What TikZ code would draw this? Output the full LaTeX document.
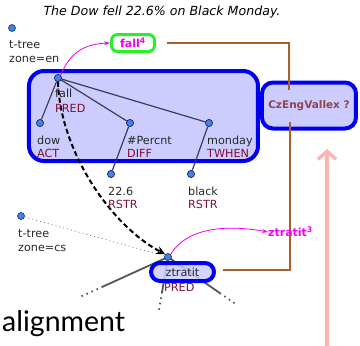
\documentclass[tikz,border=0pt]{standalone}
\usepackage{fontspec}
\setmainfont{DejaVu Sans}
\newfontfamily\alfont{Lato}
\usetikzlibrary{arrows.meta,calc}
\definecolor{lav}{RGB}{204,204,255}
\definecolor{bluebd}{RGB}{0,0,238}
\definecolor{grn}{RGB}{40,240,40}
\definecolor{mag}{RGB}{240,0,240}
\definecolor{rolec}{RGB}{128,16,48}
\definecolor{brownl}{RGB}{170,95,45}
\definecolor{czc}{RGB}{140,70,80}
\definecolor{pinkc}{RGB}{255,180,180}
\definecolor{edgec}{RGB}{60,60,90}
\definecolor{zgray}{RGB}{85,85,85}
\definecolor{dotf}{RGB}{70,130,230}
\definecolor{dotb}{RGB}{20,40,120}
\begin{document}
\begin{tikzpicture}[x=1pt,y=-1pt,
  dotn/.style={circle,inner sep=0pt,minimum size=7pt,fill=dotf,draw=dotb,line width=0.6pt},
  word/.style={anchor=base west,inner sep=0pt,font=\fontsize{11.2}{13}\selectfont,text=black!85},
  role/.style={anchor=base west,inner sep=0pt,font=\fontsize{11.2}{13}\selectfont,text=rolec},
  tedge/.style={draw=edgec,line width=1.2pt},
  zedge/.style={draw=zgray,line width=1.8pt},
  zdot/.style={draw=zgray,line width=1.8pt,dash pattern=on 1.5pt off 4pt},
  bigbox/.style={draw=bluebd,fill=lav,line width=4pt},
  brownline/.style={draw=brownl,line width=1.5pt},
  magarrow/.style={draw=mag,line width=0.8pt,-{Stealth[length=6pt,width=4pt]}}
]
\useasboundingbox (0,0) rectangle (360,346);

% title
\node[inner sep=0pt,font=\fontsize{12.6}{14}\selectfont\itshape] (title) at (162,12) {The Dow fell 22.6\% on Black Monday.};

% boxes
\node[bigbox,rounded corners=15pt,minimum width=229pt,minimum height=90pt] (ebox) at (143.5,116) {};
\node[bigbox,rounded corners=11pt,minimum width=94pt,minimum height=46pt,
      font=\fontsize{10.5}{12}\selectfont\bfseries,text=czc] (cz) at (309,105.5) {CzEngVallex ?};
\node[draw=grn,line width=3pt,rounded corners=6pt,minimum width=43pt,minimum height=17pt,inner sep=0pt,
      font=\fontsize{11}{12}\selectfont\bfseries,text=mag] (fall4) at (133,43) {fall\textsuperscript{4}};

% brown lines
\coordinate (b1) at (167,43);
\coordinate (b2) at (289,43);
\coordinate (b3) at (289,90);
\coordinate (b4) at (290,122);
\coordinate (b5) at (290,270);
\coordinate (b6) at (223,270);
\draw[brownline] (b1) -- (b2) -- (b3);
\draw[brownline] (b4) -- (b5) -- (b6);

% pink arrow
\coordinate (p0) at (327,346);
\coordinate (p1) at (327,149);
\draw[draw=pinkc,line width=3.5pt,-{Straight Barb[length=8pt,width=18pt]}] (p0) -- (p1);

% tree en
\node[dotn] (en) at (12,28) {};
\node[word] (enl1) at (9,48) {t-tree};
\node[word] (enl2) at (9,62) {zone=en};

\node[dotn] (fall) at (58,78) {};
\node[dotn] (dow) at (40,123) {};
\node[dotn] (perc) at (130,123) {};
\node[dotn] (mon) at (209,123) {};
\node[dotn] (n226) at (111,174) {};
\node[dotn] (blk) at (191,174) {};
\draw[tedge] (fall) -- (dow);
\draw[tedge] (fall) -- (perc);
\draw[tedge] (fall) -- (mon);
\draw[tedge] (perc) -- (n226);
\draw[tedge] (mon) -- (blk);
\node[dotn] at (fall) {};
\node[dotn] at (dow) {};
\node[dotn] at (perc) {};
\node[dotn] at (mon) {};
\node[dotn] at (n226) {};
\node[dotn] at (blk) {};

% tree cs
\node[dotn] (cs) at (21,216) {};
\node[word] (csl1) at (18,237) {t-tree};
\node[word] (csl2) at (18,251) {zone=cs};

\coordinate (ztc) at (168,257);
\coordinate (zl) at (80,297);
\coordinate (zd) at (159,310);
\coordinate (zr) at (237,305);
\draw[zedge] (ztc) -- ($(ztc)!0.74!(zl)$);
\draw[zdot] ($(ztc)!0.74!(zl)$) -- (zl);
\draw[zedge] (ztc) -- ($(ztc)!0.66!(zd)$);
\draw[zdot] ($(ztc)!0.66!(zd)$) -- (zd);
\draw[zedge] (ztc) -- ($(ztc)!0.75!(zr)$);
\draw[zdot] ($(ztc)!0.75!(zr)$) -- (zr);

\node[role] (rzt) at (164,291) {PRED};
\node[bigbox,fill opacity=0.85,text opacity=1,rounded corners=9pt,minimum width=63pt,minimum height=18pt,inner sep=0pt,
      font=\fontsize{11.2}{13}\selectfont,text=black!85] (ztbox) at (182.5,272) {ztratit};
\node[dotn] (zt) at (ztc) {};

\draw[draw=gray,line width=0.8pt,dash pattern=on 1pt off 3pt] (cs) -- (zt);

% dashed alignment arrow
\draw[line width=2pt,dash pattern=on 5pt off 3pt,-{Stealth[length=9pt,width=8pt]}]
  (fall.south) .. controls (60,150) and (110,225) .. (zt.north west);

% labels (over the dashed arrow)
\node[word] (wfall) at (55,97) {fall};
\node[role] (rfall) at (55,112) {PRED};
\node[word] (wdow) at (37,144) {dow};
\node[role] (rdow) at (37,157) {ACT};
\node[word] (wperc) at (127,144) {\#Percnt};
\node[role] (rperc) at (127,157) {DIFF};
\node[word] (wmon) at (207,144) {monday};
\node[role] (rmon) at (207,157) {TWHEN};
\node[word] (w226) at (108,195) {22.6};
\node[role] (r226) at (108,208) {RSTR};
\node[word] (wblk) at (188,195) {black};
\node[role] (rblk) at (188,208) {RSTR};

% magenta curve fall -> fall4
\draw[magarrow] (fall.north east) .. controls (70,52) and (85,44) .. (fall4.west);

% magenta curve zt -> ztratit3
\node[anchor=west,inner sep=0pt,font=\fontsize{11}{12}\selectfont\bfseries,text=mag] (zt3) at (268,232) {ztratit\textsuperscript{3}};
\draw[magarrow] (zt.north east) .. controls (188,226) and (230,225) .. (zt3.west);

% alignment
\node[anchor=base west,inner sep=0pt,font=\alfont\fontsize{28.5}{30}\selectfont] (al) at (2,331) {alignment};
\end{tikzpicture}
\end{document}
